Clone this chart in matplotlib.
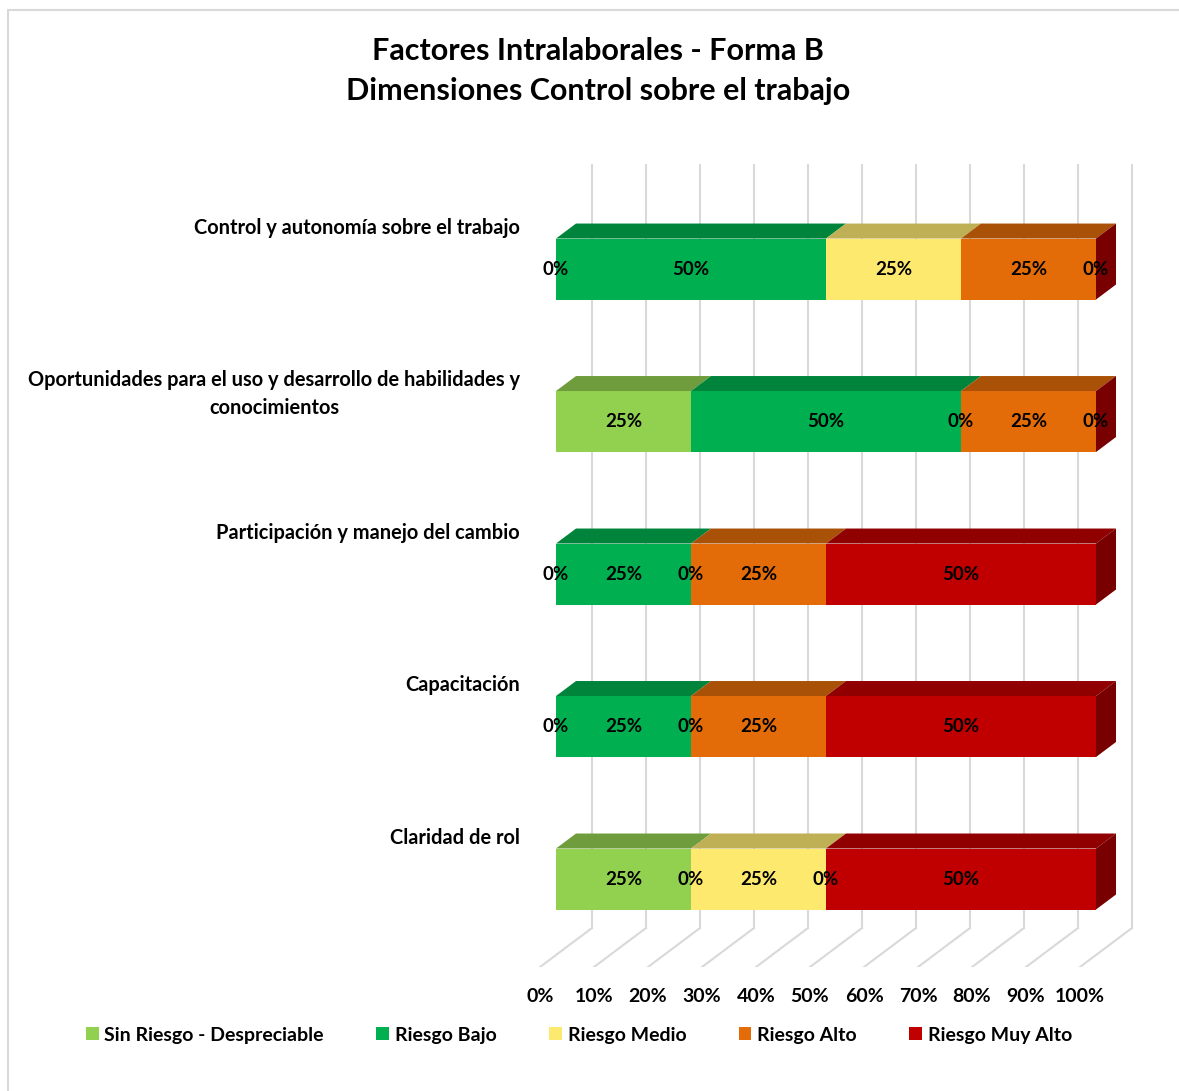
import matplotlib.pyplot as plt
from matplotlib.patches import Polygon, Patch, Rectangle

plt.rcParams['font.family'] = ['Lato', 'DejaVu Sans']

categorias = [
    "Control y autonomía sobre el trabajo",
    "Oportunidades para el uso y desarrollo de habilidades y\nconocimientos",
    "Participación y manejo del cambio",
    "Capacitación",
    "Claridad de rol",
]
niveles = ["Sin Riesgo - Despreciable", "Riesgo Bajo", "Riesgo Medio", "Riesgo Alto", "Riesgo Muy Alto"]

# porcentajes por dimension (orden de niveles)
sin_riesgo = [0, 25, 0, 0, 25]
bajo = [50, 50, 25, 25, 0]
medio = [25, 0, 0, 0, 25]
alto = [25, 25, 25, 25, 0]
muy_alto = [0, 0, 50, 50, 50]
series = [sin_riesgo, bajo, medio, alto, muy_alto]

colores = ["#92D050", "#00B050", "#FDE96D", "#E36C09", "#C00000"]
colores_top = ["#6F9C3C", "#00843C", "#BFAF55", "#AA5108", "#900000"]
color_lado = "#780000"
ticks = [0, 10, 20, 30, 40, 50, 60, 70, 80, 90, 100]

# geometria de la perspectiva (en unidades de datos)
px_x = 1 / 540
px_y = 1 / 152.5
wall_dx, wall_dy = 52 * px_x, 39 * px_y
bar_off = 16 * px_x
depth_dx, depth_dy = 20 * px_x, 15 * px_y
h = 0.2
floor_y = 4.577
top_y = -0.68

fig = plt.figure(figsize=(11.79, 10.91), dpi=100)
ax = fig.add_axes([530 / 1179, 1 - 967 / 1091, 615 / 1179, (967 - 160) / 1091])
ax.set_xlim(-10 * px_x, 605 * px_x)
ax.set_ylim(floor_y, -0.715)

# pared y piso
grid_c = "#D9D9D9"
for t in ticks:
    x = t / 100
    ax.plot([x + wall_dx, x + wall_dx], [floor_y - wall_dy, top_y], color=grid_c, lw=1.5, zorder=1)
    ax.plot([x, x + wall_dx], [floor_y, floor_y - wall_dy], color=grid_c, lw=1.5, zorder=1)

# barras 3D apiladas
for i in range(len(categorias)):
    left = 0
    for k, s in enumerate(series):
        v = s[i] / 100
        x0 = left + bar_off
        x1 = x0 + v
        ax.add_patch(Rectangle((x0, i - h), v, 2 * h, facecolor=colores[k], edgecolor='none', zorder=3))
        ax.add_patch(Polygon([(x0, i - h), (x1, i - h), (x1 + depth_dx, i - h - depth_dy),
                              (x0 + depth_dx, i - h - depth_dy)],
                             closed=True, facecolor=colores_top[k], edgecolor='none', zorder=3))
        ax.text((x0 + x1) / 2, i, f"{s[i]}%", ha='center', va='center',
                fontsize=13.5, fontweight='bold', color='black', zorder=5)
        left += v
    xr = left + bar_off
    ax.add_patch(Polygon([(xr, i - h), (xr + depth_dx, i - h - depth_dy),
                          (xr + depth_dx, i + h - depth_dy), (xr, i + h)],
                         closed=True, facecolor=color_lado, edgecolor='none', zorder=3))
    ax.text(-20 * px_x, i - 0.335, categorias[i], ha='right', va='top', multialignment='center',
            fontsize=14.4, fontweight='bold', linespacing=1.45, clip_on=False)

ax.set_xticks([t / 100 for t in ticks])
ax.set_xticklabels([f"{t}%" for t in ticks], fontsize=14, fontweight='bold')
ax.tick_params(axis='x', length=0, pad=15)
ax.set_yticks([])
for sp in ax.spines.values():
    sp.set_visible(False)

fig.text(598 / 1179, 1 - 51 / 1091, "Factores Intralaborales - Forma B", ha='center', va='center',
         fontsize=22, fontweight='bold')
fig.text(598 / 1179, 1 - 91 / 1091, "Dimensiones Control sobre el trabajo", ha='center', va='center',
         fontsize=22, fontweight='bold')

handles = [Patch(facecolor=c, edgecolor='none') for c in colores]
fig.legend(handles, niveles, loc='center', bbox_to_anchor=(579 / 1179, 1 - 1035 / 1091), ncol=5,
           frameon=False, handlelength=0.65, handleheight=0.65, handletextpad=0.3,
           columnspacing=2.7, prop={'weight': 'bold', 'size': 14})

# borde del area del grafico
fig.add_artist(Rectangle((8 / 1179, -0.05), 1.1, 1 - 10 / 1091 + 0.05, transform=fig.transFigure,
                         facecolor='none', edgecolor='#D9D9D9', lw=1.5))

fig.savefig("out.png", dpi=100)
